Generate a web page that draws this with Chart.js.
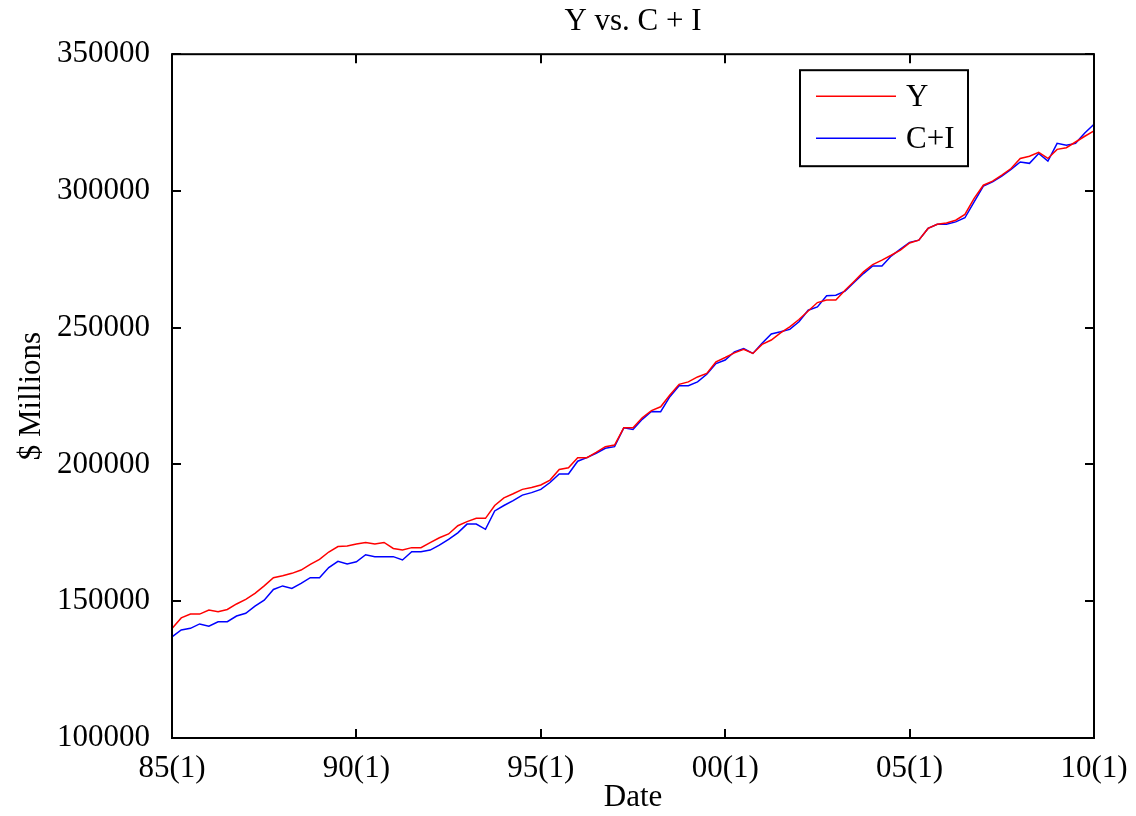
<!DOCTYPE html>
<html>
<head>
    <title>Y vs. C + I</title>
    <style>
        body { margin: 0; background: #fff; }
        #wrap { width: 1136px; height: 816px; }
    </style>
</head>
<body>
    <div id="wrap"><canvas id="chart" width="1136" height="816"></canvas></div>

    <script src="https://cdn.jsdelivr.net/npm/chart.js"></script>
    <script>
        // quarterly data, 85(1) .. 10(1), $ millions
        const years = ["85","86","87","88","89","90","91","92","93","94","95","96","97",
                       "98","99","00","01","02","03","04","05","06","07","08","09","10"];
        const quarters = [];
        years.forEach(yr => {
            for (let q = 1; q <= 4; q++) {
                if (quarters.length < 101) quarters.push(yr + "(" + q + ")");
            }
        });

        const outputY = [140000,143900,145300,145300,146800,146200,147000,149000,150700,152900,
            155600,158600,159300,160200,161400,163500,165300,168000,170000,170200,
            170900,171500,170900,171500,169300,168700,169600,169600,171400,173200,
            174600,177600,179100,180300,180300,185000,187800,189300,190900,191600,
            192500,194300,198200,198800,202500,202500,204400,206500,207100,213400,
            213400,217100,219700,221100,225400,229300,230200,232000,233300,237500,
            239100,240800,242100,240600,243900,245500,248100,250300,253000,256100,
            259200,260100,260100,263700,267000,270400,273100,274700,276500,278400,
            281000,282000,286300,287800,288300,289300,291400,297300,302100,303600,
            305800,308200,311900,312700,314100,311900,315200,315800,317900,320000,
            322000];

        const consInv = [137000,139500,140100,141700,140900,142500,142500,144600,145600,148200,
            150400,154300,155600,154700,156500,158600,158600,162300,164600,163600,
            164400,167000,166300,166300,166300,165100,168100,168100,168700,170500,
            172600,175000,178200,178200,176300,183000,185000,186800,188800,189700,
            190900,193400,196500,196500,201200,202500,204100,205900,206500,213400,
            212800,216500,219400,219300,224800,228800,228800,230200,233000,236900,
            238200,241200,242400,240600,244300,247700,248500,249400,252200,256400,
            257600,261700,261900,263400,266600,269800,272600,272600,276200,278700,
            281200,282000,286300,287800,287800,288700,290200,296000,301800,303300,
            305400,307900,310600,310100,313700,310900,317400,316700,317400,321200,
            324400];

        const serif = "'Liberation Serif', 'DejaVu Serif', serif";
        Chart.defaults.color = "#000";
        Chart.defaults.font.family = serif;

        // box around the plot + inward tick marks + legend box
        const framePlugin = {
            id: "frame",
            afterDatasetsDraw(chart) {
                const ctx = chart.ctx;
                const a = chart.chartArea;
                const xs = chart.scales.x, ys = chart.scales.y;
                ctx.save();
                ctx.strokeStyle = "#000";
                ctx.lineWidth = 2;
                ctx.strokeRect(a.left, a.top, a.right - a.left, a.bottom - a.top);
                ctx.beginPath();
                ys.ticks.forEach(t => {
                    const py = Math.round(ys.getPixelForValue(t.value));
                    ctx.moveTo(a.left, py); ctx.lineTo(a.left + 9, py);
                    ctx.moveTo(a.right, py); ctx.lineTo(a.right - 9, py);
                });
                quarters.forEach((q, i) => {
                    if (i % 20 !== 0) return;
                    const px = Math.round(xs.getPixelForValue(i));
                    ctx.moveTo(px, a.bottom); ctx.lineTo(px, a.bottom - 9);
                    ctx.moveTo(px, a.top); ctx.lineTo(px, a.top + 9);
                });
                ctx.stroke();

                // legend
                const bx = a.right - 294, by = a.top + 16, bw = 168, bh = 96;
                ctx.fillStyle = "#fff";
                ctx.fillRect(bx, by, bw, bh);
                ctx.strokeRect(bx, by, bw, bh);
                ctx.font = "31px " + serif;
                ctx.textBaseline = "middle";
                chart.data.datasets.forEach((ds, k) => {
                    const ly = by + 26 + k * 42;
                    ctx.strokeStyle = ds.borderColor;
                    ctx.lineWidth = 1.5;
                    ctx.beginPath();
                    ctx.moveTo(bx + 16, ly); ctx.lineTo(bx + 96, ly);
                    ctx.stroke();
                    ctx.fillStyle = "#000";
                    ctx.fillText(ds.label, bx + 106, ly + 2);
                });
                ctx.restore();
            }
        };

        new Chart(document.getElementById("chart"), {
            type: "line",
            data: {
                labels: quarters,
                datasets: [
                    { label: "Y", data: outputY, borderColor: "#ff0000", borderWidth: 1.5, pointRadius: 0, tension: 0 },
                    { label: "C+I", data: consInv, borderColor: "#0000ff", borderWidth: 1.5, pointRadius: 0, tension: 0 }
                ]
            },
            options: {
                responsive: false,
                animation: false,
                devicePixelRatio: 1,
                layout: { padding: { left: 0, right: 42, top: 0, bottom: 0 } },
                plugins: {
                    legend: { display: false },
                    tooltip: { enabled: false },
                    title: {
                        display: true,
                        text: "Y vs. C + I",
                        fullSize: false,
                        font: { size: 31, weight: "normal", family: serif, lineHeight: 1.2 },
                        padding: { top: 3, bottom: 14 }
                    }
                },
                scales: {
                    x: {
                        offset: false,
                        grid: { display: false, drawTicks: false },
                        border: { display: false },
                        ticks: {
                            autoSkip: false, maxRotation: 0, minRotation: 0, padding: 12,
                            font: { size: 31, lineHeight: 1.2 },
                            callback: (v, i) => (i % 20 === 0 ? quarters[i] : "")
                        },
                        title: { display: true, text: "Date", font: { size: 31, lineHeight: 1.2 }, padding: { top: 0, bottom: 0 } },
                        afterFit: s => { s.height = 78; s.paddingLeft = 0; s.paddingRight = 0; }
                    },
                    y: {
                        min: 100000, max: 350000,
                        grid: { display: false, drawTicks: false },
                        border: { display: false },
                        ticks: { stepSize: 50000, padding: 22, font: { size: 31, lineHeight: 1.2 }, callback: v => String(v) },
                        title: { display: true, text: "$ Millions", font: { size: 31, lineHeight: 1.2 }, padding: { top: 13, bottom: 0 } },
                        afterFit: s => { s.width = 172; s.paddingTop = 0; s.paddingBottom = 0; }
                    }
                }
            },
            plugins: [framePlugin]
        });
    </script>
</body>
</html>
